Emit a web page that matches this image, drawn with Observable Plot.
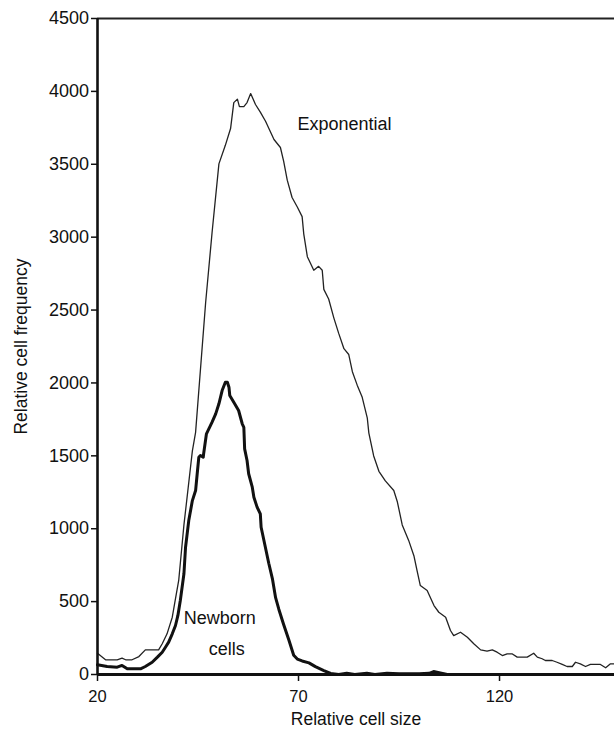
<!DOCTYPE html>
<html>
<head>
<meta charset="utf-8">
<script src="https://cdn.jsdelivr.net/npm/d3@7"></script>
<script src="https://cdn.jsdelivr.net/npm/@observablehq/plot@0.6"></script>
<style>
  html, body { margin: 0; padding: 0; background: #fff; }
  svg { display: block; }
</style>
</head>
<body>
<script>
// Exponential population (thin line)
const expSize = [20.0, 22.0, 24.9, 26.1, 27.0, 28.6, 30.3, 31.9, 35.2, 36.1, 37.3, 38.6, 39.4, 40.2, 41.5, 43.6, 44.4, 46.9, 48.5, 50.2, 51.8, 53.1, 53.9, 54.8, 55.3, 56.4, 57.2, 58.1, 59.3, 60.5, 61.8, 63.9, 65.5, 66.3, 67.2, 68.4, 69.7, 70.9, 71.3, 72.2, 73.8, 75.0, 75.9, 76.3, 77.5, 78.8, 80.0, 81.3, 82.5, 83.4, 84.6, 85.8, 87.1, 87.5, 88.7, 90.0, 91.6, 93.7, 94.6, 95.8, 97.4, 98.7, 99.5, 100.3, 102.0, 103.7, 104.9, 106.6, 107.8, 108.6, 110.3, 112.0, 113.6, 115.3, 116.9, 118.2, 119.4, 120.7, 121.9, 123.1, 124.4, 126.9, 128.5, 129.4, 130.6, 131.4, 133.1, 134.3, 135.6, 136.8, 138.1, 138.9, 140.1, 141.4, 142.6, 145.1, 146.4, 147.6, 148.6];
const expFreq = [146, 101, 101, 112, 101, 101, 123, 169, 169, 211, 279, 393, 521, 645, 1026, 1534, 1661, 2552, 3032, 3503, 3630, 3745, 3923, 3947, 3896, 3896, 3923, 3985, 3910, 3858, 3795, 3670, 3615, 3522, 3391, 3272, 3207, 3141, 3023, 2866, 2773, 2800, 2773, 2642, 2576, 2445, 2340, 2235, 2195, 2077, 1985, 1906, 1761, 1656, 1499, 1394, 1328, 1262, 1183, 1026, 920, 815, 711, 610, 576, 473, 427, 393, 302, 267, 290, 256, 211, 169, 160, 169, 153, 130, 142, 142, 119, 119, 146, 119, 108, 96, 96, 84, 69, 55, 55, 84, 73, 55, 69, 69, 46, 73, 73];

// Newborn cells (thick line)
const newSize = [20.0, 22.4, 24.9, 26.1, 27.4, 30.7, 31.9, 33.6, 34.9, 36.1, 36.9, 37.7, 38.6, 39.4, 40.0, 40.6, 41.5, 41.9, 42.7, 43.6, 44.4, 44.8, 45.2, 45.6, 46.3, 46.4, 47.1, 48.5, 49.4, 50.2, 51.0, 51.8, 52.3, 52.7, 52.9, 53.9, 55.1, 56.0, 56.4, 56.6, 57.2, 57.6, 58.5, 58.9, 59.7, 60.5, 60.7, 61.4, 62.6, 63.5, 64.3, 65.1, 66.3, 67.6, 68.8, 69.7, 70.9, 72.6, 74.2, 76.3, 78.0, 80.0, 82.0, 84.0, 87.0, 89.0, 92.0, 95.0, 100.0, 102.5, 103.6, 105.0, 107.0];
const newFreq = [67, 55, 50, 62, 39, 39, 55, 84, 119, 153, 187, 222, 279, 336, 405, 508, 691, 873, 1056, 1193, 1262, 1377, 1490, 1502, 1490, 1514, 1651, 1731, 1788, 1857, 1948, 2005, 2005, 1971, 1914, 1868, 1811, 1720, 1696, 1548, 1468, 1377, 1285, 1216, 1148, 1102, 1010, 919, 763, 658, 527, 448, 343, 237, 132, 106, 93, 80, 54, 27, 7, 0, 8, 0, 8, 0, 8, 5, 5, 8, 20, 12, 0];

const xTicks = [20, 70, 120];
const yTicks = [0, 500, 1000, 1500, 2000, 2500, 3000, 3500, 4000, 4500];

const labelText = ["Exponential", "Newborn", "cells"];
const labelX = [69.75, 41.47, 47.7];
const labelY = [3778, 387, 170];

const expData = expSize.map((s, i) => ({size: s, freq: expFreq[i]}));
const newData = newSize.map((s, i) => ({size: s, freq: newFreq[i]}));
const labels = labelText.map((t, i) => ({text: t, x: labelX[i], y: labelY[i]}));

const font = "'Liberation Sans', Arial, Helvetica, sans-serif";

const chart = Plot.plot({
  width: 614,
  height: 729,
  marginLeft: 97,
  marginRight: 0,
  marginTop: 18,
  marginBottom: 55,
  style: {fontFamily: font, fontSize: "16px", color: "#111", background: "#fff"},
  x: {domain: [20, 148.6]},
  y: {domain: [0, 4500]},
  marks: [
    Plot.ruleY([4500], {stroke: "#222", strokeWidth: 2.2}),
    Plot.line(expData, {x: "size", y: "freq", stroke: "#222", strokeWidth: 1.3}),
    Plot.line(newData, {x: "size", y: "freq", stroke: "#111", strokeWidth: 3, strokeLinejoin: "round"}),
    Plot.ruleX([20], {stroke: "#111", strokeWidth: 2.6}),
    Plot.ruleY([0], {stroke: "#111", strokeWidth: 2.8}),
    Plot.axisX({ticks: xTicks, tickFormat: d => String(d), tickSize: 7, tickPadding: 9, fontSize: 16.5, label: null, stroke: "#111", strokeWidth: 1.5}),
    Plot.axisY({ticks: yTicks, tickFormat: d => String(d), tickSize: 6, tickPadding: 2.5, fontSize: 18, label: null, stroke: "#111", strokeWidth: 1.5}),
    Plot.text(labels, {x: "x", y: "y", text: "text", textAnchor: "start", lineAnchor: "middle", fontSize: 18, fill: "#111"}),
    Plot.text(["Relative cell size"], {frameAnchor: "bottom", dy: 45, textAnchor: "middle", lineAnchor: "middle", fontSize: 17.5, fill: "#111"}),
    Plot.text(["Relative cell frequency"], {frameAnchor: "left", dx: -76, rotate: -90, textAnchor: "middle", lineAnchor: "middle", fontSize: 17.5, fill: "#111"})
  ]
});

document.body.appendChild(chart);
</script>
</body>
</html>
